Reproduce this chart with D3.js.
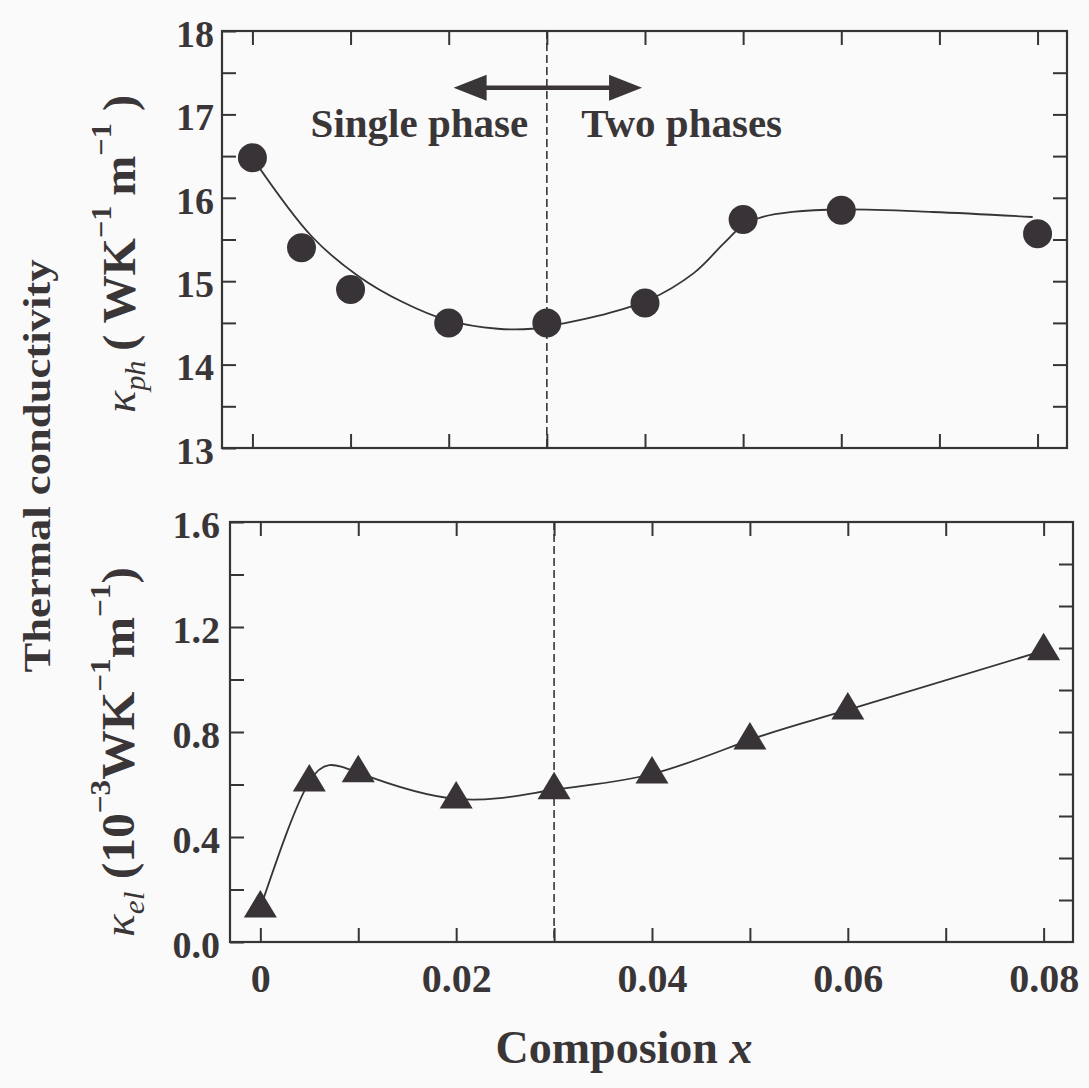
<!DOCTYPE html>
<html>
<head>
<meta charset="utf-8">
<script src="https://cdn.jsdelivr.net/npm/d3@7"></script>
<style>
  body { margin: 0; background: #fbfafb; }
  svg { display: block; }
  .tick line { stroke: #353535; stroke-width: 2; }
</style>
</head>
<body>
<div id="chart"></div>
<script>
// composition x of the samples
const comp = [0, 0.005, 0.01, 0.02, 0.03, 0.04, 0.05, 0.06, 0.08];
// phonon thermal conductivity, W K^-1 m^-1
const kappaPh = [16.48, 15.40, 14.90, 14.50, 14.50, 14.74, 15.74, 15.85, 15.57];
// electronic thermal conductivity, 10^-3 W K^-1 m^-1
const kappaEl = [0.13, 0.61, 0.645, 0.545, 0.58, 0.64, 0.77, 0.884, 1.11];
// guide line drawn through the phonon data
const fitX = [0, 0.0061, 0.0108, 0.0153, 0.0199, 0.025, 0.0285, 0.0315, 0.0354, 0.0403, 0.045, 0.048, 0.050, 0.052, 0.055, 0.060, 0.0693, 0.0795];
const fitY = [16.48, 15.53, 15.06, 14.75, 14.53, 14.43, 14.43, 14.49, 14.59, 14.77, 15.10, 15.45, 15.67, 15.77, 15.83, 15.86, 15.83, 15.77];

const xTicks = [0, 0.01, 0.02, 0.03, 0.04, 0.05, 0.06, 0.07, 0.08];
const xLabels = [0, 0.02, 0.04, 0.06, 0.08];
const phTicks = [13, 13.5, 14, 14.5, 15, 15.5, 16, 16.5, 17, 17.5, 18];
const phLabels = [13, 14, 15, 16, 17, 18];
const phRightTicks = [13.5, 14, 14.5, 15, 15.5, 16, 16.5, 17, 17.5];
const elTicks = [0, 0.2, 0.4, 0.6, 0.8, 1.0, 1.2, 1.4, 1.6];
const elLabels = [0, 0.4, 0.8, 1.2, 1.6];
const elRightTicks = [0.16, 0.32, 0.48, 0.64, 0.8, 0.96, 1.12, 1.28, 1.44];
const boundaryX = 0.03;

const W = 1089, H = 1088;
const ink = "#353535";
const textInk = "#3a3638";
const serif = '"Liberation Serif", "DejaVu Serif", serif';

const svg = d3.select("#chart").append("svg")
  .attr("width", W)
  .attr("height", H);

svg.append("rect").attr("width", W).attr("height", H).attr("fill", "#fbfafb");

const xDomain = [-0.0031, 0.083];
const tickLen = 14;

function styleLabels(sel, size) {
  sel.selectAll("text")
    .attr("font-family", serif)
    .attr("font-weight", "bold")
    .attr("font-size", size)
    .attr("fill", textInk);
}

function panel(box, yDomain, ticks, labels, rightTicks, labelFmt, labelSize, labelPad, showX) {
  const g = svg.append("g").attr("transform", `translate(${box.left},${box.top})`);
  const w = box.right - box.left, h = box.bottom - box.top;
  const x = d3.scaleLinear().domain(xDomain).range([0, w]);
  const y = d3.scaleLinear().domain(yDomain).range([h, 0]);

  const left = g.append("g")
    .call(d3.axisLeft(y).tickValues(ticks).tickSize(-tickLen).tickPadding(labelPad)
      .tickFormat(d => labels.some(v => Math.abs(v - d) < 1e-9) ? labelFmt(d) : ""));
  styleLabels(left, labelSize);
  left.selectAll("text").attr("dy", "0.4em");

  g.append("g").attr("transform", `translate(${w},0)`)
    .call(d3.axisRight(y).tickValues(rightTicks).tickSize(-tickLen).tickFormat(""));

  g.append("g")
    .call(d3.axisTop(x).tickValues(xTicks).tickSize(-tickLen).tickFormat(""));

  const bottom = g.append("g").attr("transform", `translate(0,${h})`)
    .call(d3.axisBottom(x).tickValues(xTicks).tickSize(-tickLen).tickPadding(22)
      .tickFormat(d => showX && xLabels.some(v => Math.abs(v - d) < 1e-9) ? (d === 0 ? "0" : d3.format(".2f")(d)) : ""));
  styleLabels(bottom, 40);

  g.selectAll(".domain").remove();

  g.append("rect")
    .attr("width", w).attr("height", h)
    .attr("fill", "none").attr("stroke", ink).attr("stroke-width", 2.2);

  g.append("line")
    .attr("x1", x(boundaryX)).attr("x2", x(boundaryX))
    .attr("y1", 0).attr("y2", h)
    .attr("stroke", ink).attr("stroke-width", 1.6)
    .attr("stroke-dasharray", "8,4");

  return { g, x, y };
}

// top panel: phonon part
const phP = panel({ left: 222, right: 1067, top: 31, bottom: 448 }, [13, 18],
  phTicks, phLabels, phRightTicks, d3.format("d"), 38, 8, false);

phP.g.append("path")
  .datum(fitX.map((v, i) => [v, fitY[i]]))
  .attr("fill", "none").attr("stroke", ink).attr("stroke-width", 1.8)
  .attr("d", d3.line().x(d => phP.x(d[0])).y(d => phP.y(d[1])).curve(d3.curveCatmullRom.alpha(0.5)));

phP.g.selectAll("circle.pt")
  .data(comp.map((v, i) => [v, kappaPh[i]]))
  .enter().append("circle")
  .attr("class", "pt")
  .attr("cx", d => phP.x(d[0]))
  .attr("cy", d => phP.y(d[1]))
  .attr("r", 14.5)
  .attr("fill", "#383336");

// phase annotation
const arrowY = phP.y(17.32);
const ax1 = phP.x(0.0205), ax2 = phP.x(0.0397);
phP.g.append("line")
  .attr("x1", ax1 + 25).attr("x2", ax2 - 25)
  .attr("y1", arrowY).attr("y2", arrowY)
  .attr("stroke", textInk).attr("stroke-width", 4.5);
phP.g.append("path")
  .attr("d", `M${ax1},${arrowY} L${ax1 + 33},${arrowY - 13} L${ax1 + 33},${arrowY + 13} Z`)
  .attr("fill", textInk);
phP.g.append("path")
  .attr("d", `M${ax2},${arrowY} L${ax2 - 33},${arrowY - 13} L${ax2 - 33},${arrowY + 13} Z`)
  .attr("fill", textInk);

phP.g.append("text")
  .attr("x", phP.x(0.0281)).attr("y", phP.y(16.73))
  .attr("text-anchor", "end")
  .attr("font-family", serif).attr("font-weight", "bold").attr("font-size", 41)
  .attr("fill", textInk)
  .text("Single phase");
phP.g.append("text")
  .attr("x", phP.x(0.0335)).attr("y", phP.y(16.73))
  .attr("font-family", serif).attr("font-weight", "bold").attr("font-size", 41)
  .attr("fill", textInk)
  .text("Two phases");

// bottom panel: electronic part
const elP = panel({ left: 230, right: 1073, top: 522, bottom: 942 }, [0, 1.6],
  elTicks, elLabels, elRightTicks, d3.format(".1f"), 38, 10, true);

elP.g.append("path")
  .datum(comp.map((v, i) => [v, kappaEl[i]]))
  .attr("fill", "none").attr("stroke", ink).attr("stroke-width", 1.8)
  .attr("d", d3.line().x(d => elP.x(d[0])).y(d => elP.y(d[1])).curve(d3.curveNatural));

const tri = "M0,-18 L16.5,9.5 L-16.5,9.5 Z";
elP.g.selectAll("path.pt")
  .data(comp.map((v, i) => [v, kappaEl[i]]))
  .enter().append("path")
  .attr("class", "pt")
  .attr("transform", d => `translate(${elP.x(d[0])},${elP.y(d[1])})`)
  .attr("d", tri)
  .attr("fill", "#383336");

// axis titles
svg.append("text")
  .attr("transform", "translate(50,466) rotate(-90)")
  .attr("text-anchor", "middle")
  .attr("font-family", serif).attr("font-weight", "bold").attr("font-size", 38)
  .attr("fill", textInk)
  .attr("textLength", 413).attr("lengthAdjust", "spacingAndGlyphs")
  .text("Thermal conductivity");

function yTitle(cx, cy, len, sub, parts) {
  const t = svg.append("text")
    .attr("transform", `translate(${cx},${cy}) rotate(-90)`)
    .attr("text-anchor", "middle")
    .attr("font-family", serif).attr("fill", textInk)
    .attr("textLength", len).attr("lengthAdjust", "spacingAndGlyphs");
  t.append("tspan").attr("font-style", "italic").attr("font-size", 44).text("\u03BA");
  t.append("tspan").attr("font-style", "italic").attr("font-size", 29).attr("dy", 10).text(sub);
  let shift = 10;
  parts.forEach(p => {
    const dy = (p.sup ? -24 : 0) - shift;
    shift = p.sup ? -24 : 0;
    t.append("tspan")
      .attr("font-weight", "bold")
      .attr("font-size", p.sup ? 29 : 46)
      .attr("dy", dy)
      .text(p.s);
  });
}

yTitle(135, 254, 318, "ph", [
  { s: "\u2009( WK" }, { s: "\u22121", sup: true }, { s: "\u2009m" }, { s: "\u22121", sup: true }, { s: " )" }
]);
yTitle(134, 752, 370, "el", [
  { s: " (10" }, { s: "\u22123", sup: true }, { s: "WK" }, { s: "\u22121", sup: true }, { s: "m" }, { s: "\u22121", sup: true }, { s: ")" }
]);

const xt = svg.append("text")
  .attr("x", 624).attr("y", 1063)
  .attr("text-anchor", "middle")
  .attr("font-family", serif).attr("font-weight", "bold").attr("font-size", 46)
  .attr("fill", textInk);
xt.append("tspan").text("Composion ");
xt.append("tspan").attr("font-style", "italic").text("x");
</script>
</body>
</html>
